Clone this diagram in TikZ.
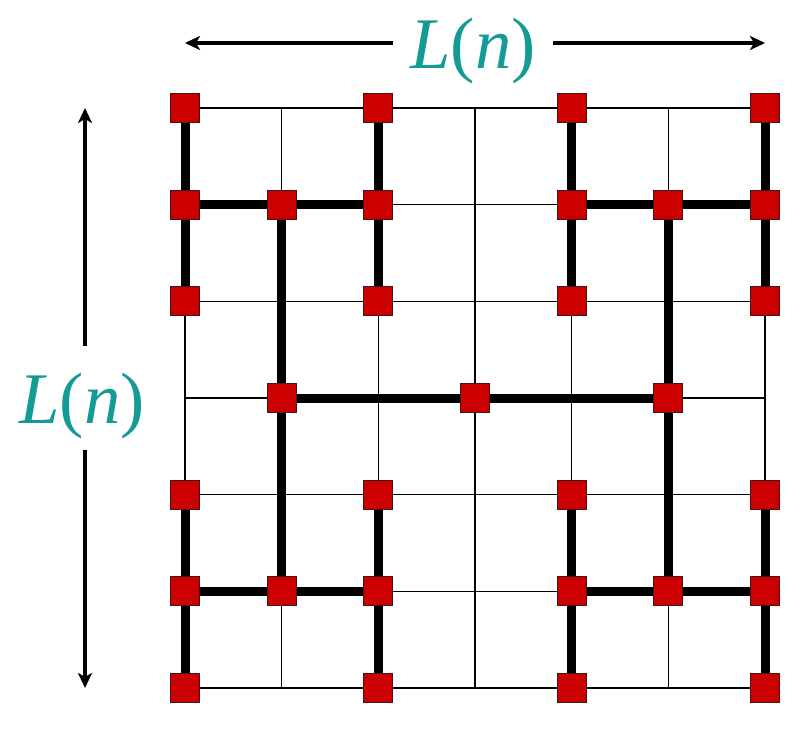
\documentclass[tikz,border=0pt]{standalone}
\usepackage{fontspec}
\setmainfont{Liberation Serif}
\usetikzlibrary{arrows.meta}

\definecolor{padred}{RGB}{204,0,0}
\definecolor{padedge}{RGB}{70,20,20}
\definecolor{labelteal}{RGB}{20,155,150}

\tikzset{
  pad/.style={draw=padedge, fill=padred, line width=1bp, minimum size=29bp, inner sep=0pt},
  wire/.style={line width=9bp},
  gridline/.style={line width=1.5bp},
  dim/.style={line width=3.5bp, -{Stealth[length=15bp,width=14bp,inset=4bp]}},
  dimlabel/.style={text=labelteal, font=\fontsize{73}{78}\selectfont, inner sep=0pt}
}

\begin{document}
\begin{tikzpicture}[x=1bp, y={(0,-1bp)}]
\useasboundingbox (0,0) rectangle (804,738);

% thin grid
\foreach \k in {0,...,6}{
  \draw[gridline] (185+\k*96.667,108) -- (185+\k*96.667,688);
  \draw[gridline] (185,108+\k*96.667) -- (765,108+\k*96.667);
}

% pads (column, row)
\foreach \i/\j in {0/0,2/0,4/0,6/0, 0/1,1/1,2/1,4/1,5/1,6/1, 0/2,2/2,4/2,6/2,
                   1/3,3/3,5/3,
                   0/4,2/4,4/4,6/4, 0/5,1/5,2/5,4/5,5/5,6/5, 0/6,2/6,4/6,6/6}
  \node[pad] (p\i\j) at (185+\i*96.667,108+\j*96.667) {};

% H-tree wires
\foreach \a/\b in {00/01,01/02,20/21,21/22,01/11,11/21,
                   40/41,41/42,60/61,61/62,41/51,51/61,
                   04/05,05/06,24/25,25/26,05/15,15/25,
                   44/45,45/46,64/65,65/66,45/55,55/65,
                   11/13,13/15,51/53,53/55,13/33,33/53}
  \draw[wire] (p\a) -- (p\b);

% dimensions
\node[dimlabel, inner xsep=17bp] (lenTop) at (473,51) {\textit{L}(\textit{n})};
\coordinate (lenTopL) at (185,43);
\coordinate (lenTopR) at (765,43);
\draw[dim] (lenTop.west |- lenTopL) -- (lenTopL);
\draw[dim] (lenTop.east |- lenTopR) -- (lenTopR);

\node[dimlabel, inner sep=11bp] (lenLeft) at (82,406) {\textit{L}(\textit{n})};
\coordinate (lenLeftT) at (85,108);
\coordinate (lenLeftB) at (85,688);
\draw[dim, shorten <=16bp] (lenLeft.north -| lenLeftT) -- (lenLeftT);
\draw[dim] (lenLeft.south -| lenLeftB) -- (lenLeftB);
\end{tikzpicture}
\end{document}
